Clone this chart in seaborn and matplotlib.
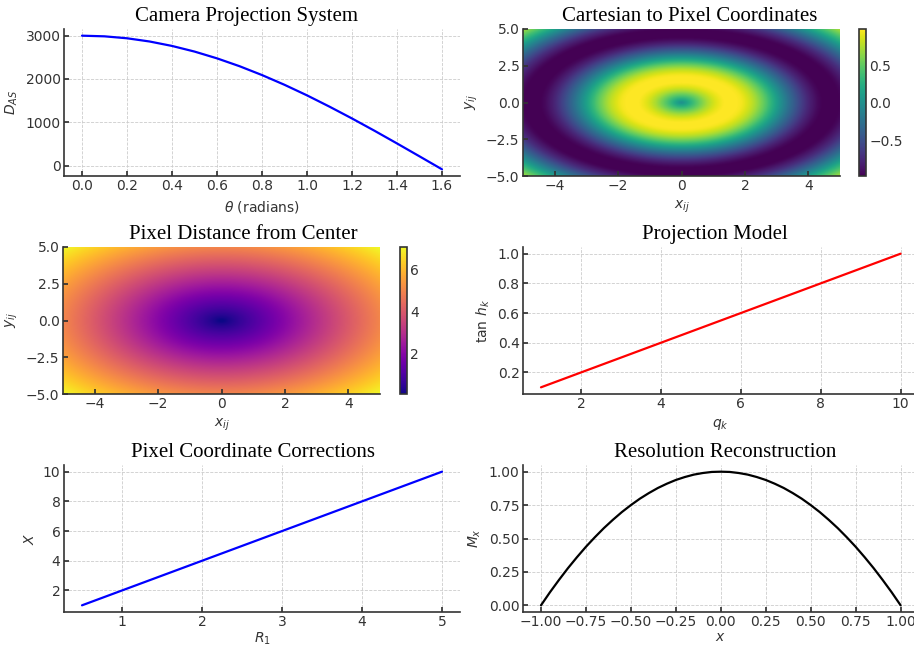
import numpy as np
import matplotlib
import matplotlib.pyplot as plt
import seaborn as sns

matplotlib.use('Agg')

# --- data ---
theta = [0.0, 0.1, 0.2, 0.3, 0.4, 0.5, 0.6, 0.7, 0.8, 0.9, 1.0, 1.1, 1.2, 1.3, 1.4, 1.5, 1.6]
d_as = [3000, 2985, 2940, 2866, 2763, 2633, 2476, 2295, 2090, 1865, 1621, 1360, 1087, 803, 510, 212, -88]

# radial profile of the ring heatmap (value vs distance from the centre)
ring_radius = [round(0.1 * i, 1) for i in range(76)]
ring_value = [0.00, 0.10, 0.20, 0.30, 0.39, 0.48, 0.56, 0.64, 0.72, 0.78,
              0.84, 0.89, 0.93, 0.96, 0.99, 1.00, 1.00, 0.99, 0.97, 0.95,
              0.91, 0.86, 0.81, 0.75, 0.68, 0.60, 0.52, 0.43, 0.33, 0.24,
              0.14, 0.04, -0.06, -0.16, -0.26, -0.35, -0.44, -0.53, -0.61, -0.69,
              -0.76, -0.82, -0.87, -0.92, -0.95, -0.98, -0.99, -1.00, -1.00, -0.98,
              -0.96, -0.93, -0.88, -0.83, -0.77, -0.71, -0.63, -0.55, -0.46, -0.37,
              -0.28, -0.18, -0.08, 0.02, 0.12, 0.22, 0.31, 0.40, 0.49, 0.58,
              0.66, 0.73, 0.79, 0.85, 0.90, 0.94]

# radial profile of the distance heatmap
dist_radius = [0.0, 0.5, 1.0, 1.5, 2.0, 2.5, 3.0, 3.5, 4.0, 4.5, 5.0, 5.5, 6.0, 6.5, 7.0, 7.5]
dist_value = [0.0, 0.5, 1.0, 1.5, 2.0, 2.5, 3.0, 3.5, 4.0, 4.5, 5.0, 5.5, 6.0, 6.5, 7.0, 7.5]

q_k = [1, 2, 3, 4, 5, 6, 7, 8, 9, 10]
tan_h = [0.1, 0.2, 0.3, 0.4, 0.5, 0.6, 0.7, 0.8, 0.9, 1.0]

r_1 = [0.5, 1.0, 1.5, 2.0, 2.5, 3.0, 3.5, 4.0, 4.5, 5.0]
x_corr = [1, 2, 3, 4, 5, 6, 7, 8, 9, 10]

x_res = [-1.0, -0.95, -0.9, -0.85, -0.8, -0.75, -0.7, -0.65, -0.6, -0.55, -0.5,
         -0.45, -0.4, -0.35, -0.3, -0.25, -0.2, -0.15, -0.1, -0.05, 0.0,
         0.05, 0.1, 0.15, 0.2, 0.25, 0.3, 0.35, 0.4, 0.45, 0.5,
         0.55, 0.6, 0.65, 0.7, 0.75, 0.8, 0.85, 0.9, 0.95, 1.0]
m_x = [0.0, 0.098, 0.19, 0.278, 0.36, 0.438, 0.51, 0.578, 0.64, 0.698, 0.75,
       0.798, 0.84, 0.878, 0.91, 0.938, 0.96, 0.978, 0.99, 0.998, 1.0,
       0.998, 0.99, 0.978, 0.96, 0.938, 0.91, 0.878, 0.84, 0.798, 0.75,
       0.698, 0.64, 0.578, 0.51, 0.438, 0.36, 0.278, 0.19, 0.098, 0.0]

# --- style ---
dark = '#333333'
sns.set_theme(style='ticks', rc={
    'axes.edgecolor': dark, 'axes.labelcolor': dark, 'xtick.color': dark, 'ytick.color': dark,
    'text.color': dark, 'xtick.direction': 'in', 'ytick.direction': 'in',
    'xtick.major.size': 3.5, 'ytick.major.size': 3.5, 'axes.linewidth': 1.2,
    'xtick.major.pad': 2.5, 'ytick.major.pad': 2.5,
    'font.size': 10, 'axes.labelsize': 10, 'xtick.labelsize': 10, 'ytick.labelsize': 10,
    'grid.color': '#cccccc', 'grid.linestyle': '--', 'grid.linewidth': 0.6,
})
plt.rcParams['font.family'] = ['DejaVu Sans']
title_font = dict(family='Liberation Serif', fontsize=15, color='black')

W, H = 914, 650
fig = plt.figure(figsize=(W / 100, H / 100), dpi=100)


def box(x0, y0, x1, y1):
    return [x0 / W, 1 - y1 / H, (x1 - x0) / W, (y1 - y0) / H]


def style_line_ax(ax):
    ax.grid(True)
    sns.despine(ax=ax)


def radial_image(ax, cax, radius, values, cmap, vmin, vmax, ticks):
    # pixel centres of a 400x400 raster spanning [-5, 5] on both axes
    g = np.linspace(-5, 5, 400)
    gx, gy = np.meshgrid(g, g)
    field = np.interp(np.hypot(gx, gy), radius, values)
    m = ax.imshow(field, extent=[-5, 5, -5, 5], origin='lower', aspect='auto',
                  cmap=cmap, vmin=vmin, vmax=vmax, interpolation='bilinear')
    ax.set_xticks([-4, -2, 0, 2, 4])
    ax.set_yticks([-5.0, -2.5, 0.0, 2.5, 5.0])
    ax.set_xlabel('$x_{ij}$')
    ax.set_ylabel('$y_{ij}$')
    sns.despine(ax=ax)
    cb = fig.colorbar(m, cax=cax)
    cb.set_ticks(ticks)
    cb.outline.set_edgecolor(dark)
    cb.outline.set_linewidth(1.2)
    cax.tick_params(direction='in', length=3.5, pad=2.5)
    return m


# 1. Camera Projection System
ax1 = fig.add_axes(box(64, 29, 460, 176))
sns.lineplot(x=theta, y=d_as, ax=ax1, color='blue', linewidth=1.6)
ax1.set_xticks([0.0, 0.2, 0.4, 0.6, 0.8, 1.0, 1.2, 1.4, 1.6])
ax1.set_yticks([0, 1000, 2000, 3000])
ax1.set_xlabel(r'$\theta$ (radians)')
ax1.set_ylabel('$D_{AS}$')
ax1.set_title('Camera Projection System', x=0.46, **title_font)
style_line_ax(ax1)

# 2. Cartesian to Pixel Coordinates
ax2 = fig.add_axes(box(523, 29, 840, 176))
cax2 = fig.add_axes(box(859, 29, 866, 176))
radial_image(ax2, cax2, ring_radius, ring_value, 'viridis', -0.97, 0.98, [-0.5, 0.0, 0.5])
ax2.set_title('Cartesian to Pixel Coordinates', x=0.527, **title_font)

# 3. Pixel Distance from Center
ax3 = fig.add_axes(box(63, 247, 380, 394))
cax3 = fig.add_axes(box(400, 247, 407, 394))
radial_image(ax3, cax3, dist_radius, dist_value, 'plasma', 0.07, 7.07, [2, 4, 6])
ax3.set_title('Pixel Distance from Center', x=0.568, **title_font)

# 4. Projection Model
ax4 = fig.add_axes(box(523, 247, 918.6, 394))
sns.lineplot(x=q_k, y=tan_h, ax=ax4, color='red', linewidth=1.6)
ax4.set_xticks([2, 4, 6, 8, 10])
ax4.set_yticks([0.2, 0.4, 0.6, 0.8, 1.0])
ax4.set_xlabel('$q_k$')
ax4.set_ylabel(r'$\tan\, h_k$')
ax4.set_title('Projection Model', x=0.485, **title_font)
style_line_ax(ax4)

# 5. Pixel Coordinate Corrections
ax5 = fig.add_axes(box(64, 465, 460, 612))
sns.lineplot(x=r_1, y=x_corr, ax=ax5, color='blue', linewidth=1.6)
ax5.set_xticks([1, 2, 3, 4, 5])
ax5.set_yticks([2, 4, 6, 8, 10])
ax5.set_xlabel('$R_1$', labelpad=0.5)
ax5.set_ylabel('$X$')
ax5.set_title('Pixel Coordinate Corrections', x=0.477, **title_font)
style_line_ax(ax5)

# 6. Resolution Reconstruction
ax6 = fig.add_axes(box(523, 465, 918.6, 612))
sns.lineplot(x=x_res, y=m_x, ax=ax6, color='black', linewidth=1.6)
ax6.set_xticks([-1.0, -0.75, -0.5, -0.25, 0.0, 0.25, 0.5, 0.75, 1.0])
ax6.set_yticks([0.0, 0.25, 0.5, 0.75, 1.0])
ax6.set_xlabel('$x$', labelpad=0.5)
ax6.set_ylabel('$M_x$')
ax6.set_title('Resolution Reconstruction', x=0.511, **title_font)
style_line_ax(ax6)

fig.savefig('out.png', dpi=100)
